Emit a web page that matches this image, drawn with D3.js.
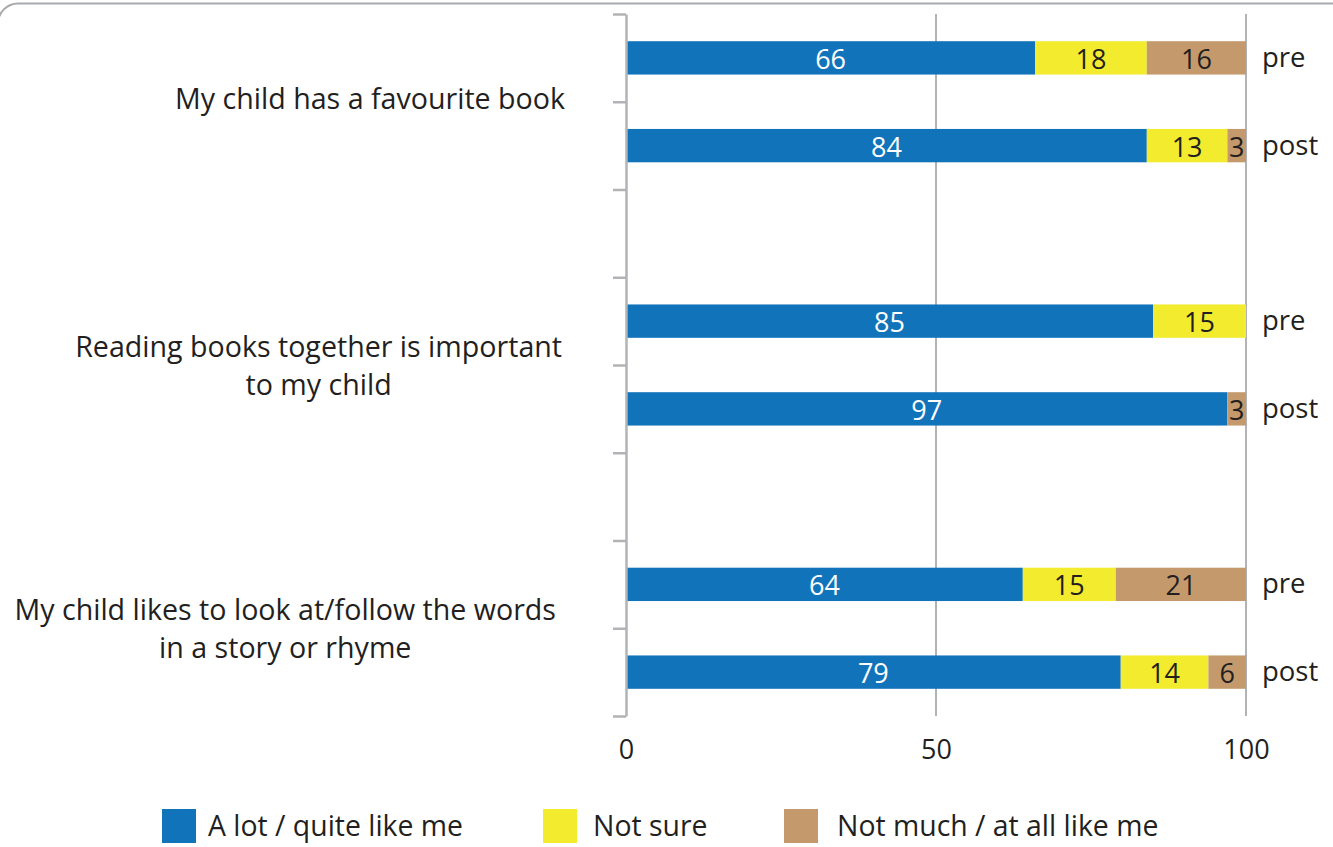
<!DOCTYPE html>
<html lang="en">
<head>
    <meta charset="utf-8">
    <title>Child reading attitudes pre / post</title>
    <script type="text/javascript" src="https://d3js.org/d3.v7.min.js"></script>
    <style type="text/css">
        body { margin: 0; background: #fff; }
        text { font-family: "Open Sans", sans-serif; fill: #231f20; }
    </style>
</head>
<body>
    <script type="text/javascript">

        // Data
        const questions = [
            ["My child has a favourite book"],
            ["Reading books together is important", "to my child"],
            ["My child likes to look at/follow the words", "in a story or rhyme"]
        ];
        const phases = ["pre", "post"];
        const seriesNames = ["A lot / quite like me", "Not sure", "Not much / at all like me"];
        // one value per bar, in order: q1 pre, q1 post, q2 pre, q2 post, q3 pre, q3 post
        const aLot    = [66, 84, 85, 97, 64, 79];
        const notSure = [18, 13, 15, 0, 15, 14];
        const notMuch = [16, 3, 0, 3, 21, 6];
        const xTicks = [0, 50, 100];

        const colors = ["#1174bb", "#f3eb2d", "#c49a6c"];
        const width = 1333;
        const height = 847;
        const plot = { left: 626, right: 1246, top: 14, bottom: 716 };
        const labelRight = [565, 562, 556];   // right edge of each question label block
        const legendX = [162, 543, 784];
        const legendTextX = [208, 593, 837];

        // rows: pre, post, blank gap after each question except the last
        const rows = [];
        const bars = [];
        questions.forEach((q, qi) => {
            phases.forEach((p, pi) => {
                const i = qi * phases.length + pi;
                const key = "q" + qi + "-" + p;
                rows.push(key);
                bars.push({ key: key, phase: p, q: qi, a: aLot[i], b: notSure[i], c: notMuch[i] });
            });
            if (qi < questions.length - 1) rows.push("gap" + qi);
        });

        // 100% stacked, like the original spreadsheet chart
        const stack = d3.stack()
            .keys(["a", "b", "c"])
            .offset(d3.stackOffsetExpand);
        const stacked = stack(bars);

        // Scales
        const xScale = d3.scaleLinear()
            .domain([0, 1])
            .range([plot.left, plot.right]);

        const yScale = d3.scaleBand()
            .domain(rows)
            .range([plot.top, plot.bottom])
            .paddingInner(0.62)
            .paddingOuter(0.31);

        const rowEdge = d3.scaleLinear()
            .domain([0, rows.length])
            .range([plot.top, plot.bottom]);

        // SVG
        const svg = d3.select("body")
            .append("svg")
            .attr("width", width)
            .attr("height", height);

        // frame
        svg.append("rect")
            .attr("x", -2)
            .attr("y", 3.5)
            .attr("width", width + 40)
            .attr("height", height + 40)
            .attr("rx", 20)
            .attr("fill", "none")
            .attr("stroke", "#a7a9ac")
            .attr("stroke-width", 2);

        // Gridlines
        svg.append("g")
            .selectAll("line")
            .data(xTicks.filter(d => d > 0))
            .join("line")
            .attr("x1", d => xScale(d / 100))
            .attr("x2", d => xScale(d / 100))
            .attr("y1", plot.top)
            .attr("y2", plot.bottom)
            .attr("stroke", "#b1b3b6")
            .attr("stroke-width", 2);

        // X tick labels
        const xAxis = d3.axisBottom(xScale)
            .tickValues(xTicks.map(d => d / 100))
            .tickFormat(d => Math.round(d * 100))
            .tickSize(0)
            .tickPadding(24);

        const gx = svg.append("g")
            .attr("transform", `translate(0,${plot.bottom})`)
            .call(xAxis);
        gx.select(".domain").remove();
        gx.selectAll("text")
            .attr("font-family", "Open Sans")
            .attr("font-size", 27)
            .attr("fill", "#231f20");

        // Bars
        const layer = svg.append("g")
            .selectAll("g")
            .data(stacked)
            .join("g")
            .attr("fill", (d, i) => colors[i]);

        layer.selectAll("rect")
            .data(d => d)
            .join("rect")
            .attr("x", d => xScale(d[0]))
            .attr("y", d => yScale(d.data.key))
            .attr("width", d => xScale(d[1]) - xScale(d[0]))
            .attr("height", yScale.bandwidth());

        // Value labels
        const keys = ["a", "b", "c"];
        layer.each(function (s, si) {
            d3.select(this).selectAll("text")
                .data(s.filter(d => d.data[keys[si]] > 0))
                .join("text")
                .attr("x", d => (xScale(d[0]) + xScale(d[1])) / 2)
                .attr("y", d => yScale(d.data.key) + yScale.bandwidth() / 2 + 11)
                .attr("text-anchor", "middle")
                .attr("font-size", 27)
                .style("fill", si === 0 ? "#ffffff" : "#231f20")
                .text(d => d.data[keys[si]]);
        });

        // Y axis (row separators)
        const yAxis = d3.axisLeft(rowEdge)
            .tickValues(d3.range(rows.length + 1))
            .tickFormat("")
            .tickSizeInner(13)
            .tickSizeOuter(0);

        const gy = svg.append("g")
            .attr("transform", `translate(${plot.left},0)`)
            .call(yAxis);
        gy.selectAll("line, path")
            .attr("stroke", "#b1b3b6")
            .attr("stroke-width", 2.5);

        // pre / post labels
        svg.append("g")
            .selectAll("text")
            .data(bars)
            .join("text")
            .attr("x", plot.right + 16)
            .attr("y", d => yScale(d.key) + yScale.bandwidth() / 2 + 9)
            .attr("font-size", 27.5)
            .text(d => d.phase);

        // Question labels
        const qLabels = svg.append("g")
            .selectAll("text")
            .data(questions)
            .join("text")
            .attr("font-size", 28.6)
            .attr("text-anchor", "middle");

        qLabels.each(function (lines, qi) {
            const t = d3.select(this);
            const c = (yScale("q" + qi + "-pre") + yScale("q" + qi + "-post") + yScale.bandwidth()) / 2;
            const n = lines.length;
            lines.forEach((line, i) => {
                t.append("tspan")
                    .attr("y", c + 7 + (i - (n - 1) / 2) * 38 + (n > 1 ? 4 : 0))
                    .text(line);
            });
            let maxW = 0;
            t.selectAll("tspan").each(function () {
                maxW = Math.max(maxW, this.getComputedTextLength());
            });
            t.selectAll("tspan").attr("x", labelRight[qi] - maxW / 2);
        });

        // Legend
        const legend = svg.append("g")
            .selectAll("g")
            .data(seriesNames)
            .join("g");

        legend.append("rect")
            .attr("x", (d, i) => legendX[i])
            .attr("y", 809)
            .attr("width", 34)
            .attr("height", 34)
            .attr("fill", (d, i) => colors[i]);

        legend.append("text")
            .attr("x", (d, i) => legendTextX[i])
            .attr("y", 836)
            .attr("font-size", 28.4)
            .text(d => d);
    </script>
</body>
</html>
